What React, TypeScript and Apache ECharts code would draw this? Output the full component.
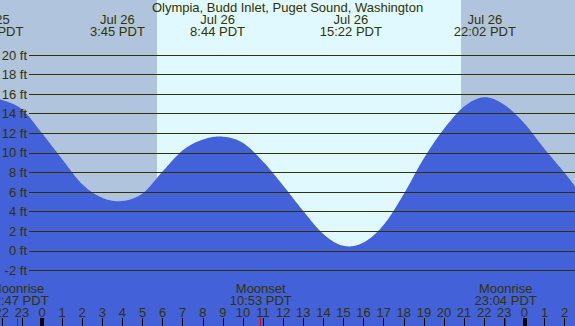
import { useEffect, useRef } from "react";
import * as echarts from "echarts";

const TITLE = "Olympia, Budd Inlet, Puget Sound, Washington";

// hours relative to midnight starting Jul 26 (PDT), water level in feet
const tideHours = [-2.5, -2, -1, 0, 1, 2, 3, 4, 5, 6, 7, 8, 9, 10, 11, 12, 13, 14, 15, 16, 17, 18, 19, 20, 21, 22, 23, 24, 25, 26, 26.55];
const tideFeet = [15.5, 15.4, 14.45, 12.0, 9.35, 6.8, 5.4, 5.08, 5.85, 8.1, 10.25, 11.35, 11.65, 11.0, 9.1, 6.65, 4.05, 1.7, 0.5, 0.85, 2.65, 5.8, 9.45, 12.45, 14.72, 15.68, 14.9, 13.0, 10.4, 7.95, 6.5];

const extremeHours = [-2.47, 3.75, 8.733, 15.367, 22.033];
const extremeLabels = ["Jul 25\n21:32 PDT", "Jul 26\n3:45 PDT", "Jul 26\n8:44 PDT", "Jul 26\n15:22 PDT", "Jul 26\n22:02 PDT"];

const hourTicks = [-2, -1, 0, 1, 2, 3, 4, 5, 6, 7, 8, 9, 10, 11, 12, 13, 14, 15, 16, 17, 18, 19, 20, 21, 22, 23, 24, 25, 26];
const midnightHours = [0, 24];

const moonHours = [-1.217, 10.883, 23.067];
const moonLabels = ["Moonrise\n22:47 PDT", "Moonset\n10:53 PDT", "Moonrise\n23:04 PDT"];

const sunriseHour = 5.72;
const sunsetHour = 20.85;

const depthMin = -2;
const depthMax = 20;
const depthStep = 2;

const DAY = "#e0f8ff";
const NIGHT = "#b0c4de";
const WATER = "#4361d8";
const INK = "#333300";
const FONT = "'Liberation Sans', Arial, sans-serif";

function labelFor(values: number[], labels: string[], v: number) {
  let best = 0;
  for (let i = 1; i < values.length; i++) {
    if (Math.abs(values[i] - v) < Math.abs(values[best] - v)) best = i;
  }
  return labels[best];
}

// Catmull-Rom curve through pixel points (rendering only)
function catmullRom(pts: number[][], steps: number) {
  const out: number[][] = [];
  const n = pts.length;
  for (let i = 0; i < n - 1; i++) {
    const p0 = pts[Math.max(0, i - 1)];
    const p1 = pts[i];
    const p2 = pts[i + 1];
    const p3 = pts[Math.min(n - 1, i + 2)];
    for (let s = 0; s < steps; s++) {
      const t = s / steps;
      const t2 = t * t;
      const t3 = t2 * t;
      const f = (a: number, b: number, c: number, d: number) =>
        0.5 * (2 * b + (-a + c) * t + (2 * a - 5 * b + 4 * c - d) * t2 + (-a + 3 * b - 3 * c + d) * t3);
      out.push([f(p0[0], p1[0], p2[0], p3[0]), f(p0[1], p1[1], p2[1], p3[1])]);
    }
  }
  out.push(pts[n - 1]);
  return out;
}

export default function App() {
  const ref = useRef<HTMLDivElement>(null);
  useEffect(() => {
    const chart = echarts.init(ref.current!, null, { renderer: "svg" });
    const hMin = -3.582;
    const hMax = 28.01;
    const fillData = tideHours.map((h, i) => [h, tideFeet[i]]);
    const txt = { fontSize: 13, color: INK, fontFamily: FONT, lineHeight: 12 };
    const baseX = {
      type: "value",
      gridIndex: 0,
      min: hMin,
      max: hMax,
      z: 6,
      axisLine: { show: false, onZero: false },
      splitLine: { show: false },
    };
    chart.setOption({
      animation: false,
      backgroundColor: DAY,
      textStyle: { fontFamily: FONT },
      title: {
        text: TITLE,
        left: "center",
        top: 1.5,
        padding: 0,
        textStyle: { ...txt, fontWeight: "normal" },
      },
      grid: [
        { left: -30, right: -30, top: 0, bottom: 0, containLabel: false, outerBoundsMode: "none" },
        { left: 29, right: -30, top: 55, bottom: 55.6, containLabel: false, outerBoundsMode: "none" },
      ],
      xAxis: [
        {
          ...baseX,
          position: "bottom",
          offset: 0,
          axisTick: { show: true, inside: true, length: 8, customValues: hourTicks, lineStyle: { color: "#000", width: 1 } },
          axisLabel: {
            show: true,
            inside: true,
            margin: 8,
            customValues: hourTicks,
            formatter: (v: number) => String(((Math.round(v) % 24) + 24) % 24),
            ...txt,
          },
        },
        {
          ...baseX,
          position: "bottom",
          offset: 0,
          axisTick: { show: true, inside: true, length: 8, customValues: midnightHours, lineStyle: { color: "#000", width: 4 } },
          axisLabel: { show: false },
        },
        {
          ...baseX,
          position: "bottom",
          offset: 0,
          axisTick: { show: true, inside: true, length: 8, customValues: moonHours, lineStyle: { color: "#e00000", width: 1 } },
          axisLabel: {
            show: true,
            inside: true,
            margin: 20,
            customValues: moonHours,
            formatter: (v: number) => labelFor(moonHours, moonLabels, v),
            ...txt,
          },
        },
        {
          ...baseX,
          position: "top",
          offset: 0,
          axisTick: { show: false },
          axisLabel: {
            show: true,
            inside: true,
            margin: 13.5,
            customValues: extremeHours,
            formatter: (v: number) => labelFor(extremeHours, extremeLabels, v),
            ...txt,
          },
        },
        { type: "value", gridIndex: 1, min: 0, max: 1, show: false, axisLine: { onZero: false } },
      ],
      yAxis: [
        { type: "value", gridIndex: 0, min: -7.68, max: 25.6, show: false, axisLine: { onZero: false } },
        {
          type: "value",
          gridIndex: 1,
          min: depthMin,
          max: depthMax,
          interval: depthStep,
          z: 5,
          axisLine: { show: false, onZero: false },
          axisTick: { show: false },
          axisLabel: { margin: 2, formatter: "{value} ft", ...txt },
          splitLine: { show: true, lineStyle: { color: INK, width: 1 } },
        },
      ],
      series: [
        {
          type: "line",
          xAxisIndex: 0,
          yAxisIndex: 0,
          data: fillData,
          symbol: "none",
          lineStyle: { width: 0, opacity: 0 },
          z: 1,
          silent: true,
          markArea: {
            silent: true,
            itemStyle: { color: NIGHT },
            data: [
              [{ xAxis: hMin }, { xAxis: sunriseHour }],
              [{ xAxis: sunsetHour }, { xAxis: hMax }],
            ],
          },
        },
        {
          type: "custom",
          coordinateSystem: "cartesian2d",
          xAxisIndex: 0,
          yAxisIndex: 0,
          data: fillData,
          z: 3,
          silent: true,
          renderItem: (params: any, api: any) => {
            if (params.dataIndex !== 0) return null;
            const pix = fillData.map((d) => api.coord(d));
            const curve = catmullRom(pix, 16);
            const cs = params.coordSys;
            const bottom = cs.y + cs.height;
            const points = [...curve, [pix[pix.length - 1][0], bottom], [pix[0][0], bottom]];
            return {
              type: "polygon",
              shape: { points },
              style: { fill: WATER, stroke: null },
            };
          },
        },
      ],
    });
    return () => chart.dispose();
  }, []);
  return <div ref={ref} style={{ position: "absolute", left: 0, top: 0, width: 575, height: 326 }} />;
}
